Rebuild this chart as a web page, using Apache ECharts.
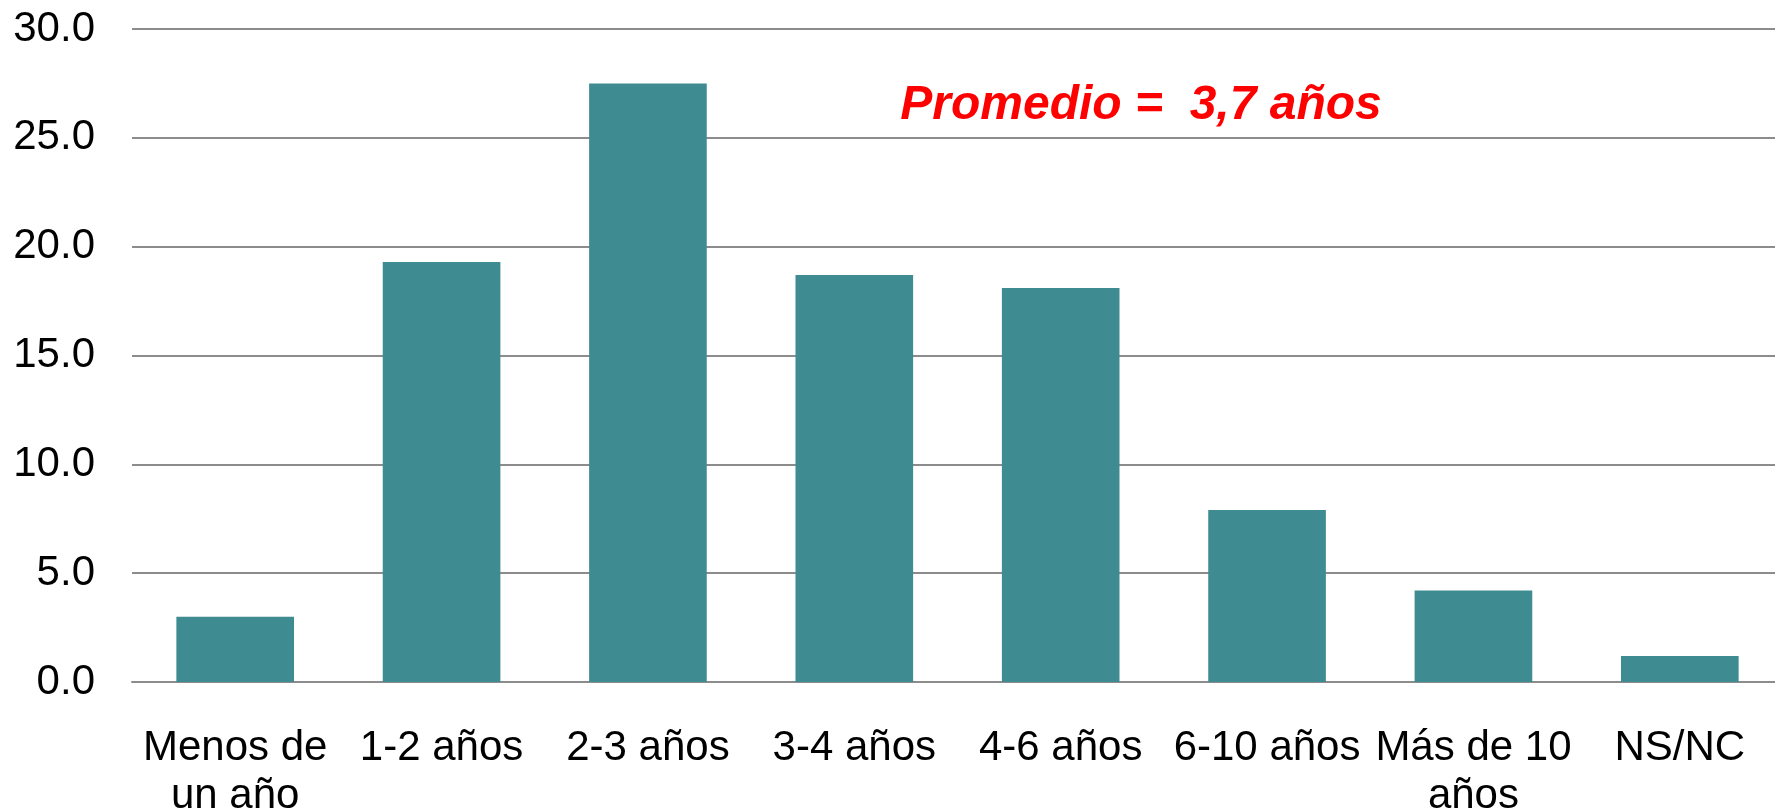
<!DOCTYPE html>
<html>
<head>
<meta charset="utf-8">
<script src="https://cdn.jsdelivr.net/npm/echarts@6/dist/echarts.min.js"></script>
<style>
html,body{margin:0;padding:0;background:#fff;}
#chart{width:1775px;height:810px;}
</style>
</head>
<body>
<div id="chart"></div>
<script>
var categories = ['Menos de\nun año', '1-2 años', '2-3 años', '3-4 años', '4-6 años', '6-10 años', 'Más de 10\naños', 'NS/NC'];
var values = [3.0, 19.3, 27.5, 18.7, 18.1, 7.9, 4.2, 1.2];
var yTicks = { min: 0, max: 30, interval: 5 };
var annotation = 'Promedio =  3,7 años';

var chart = echarts.init(document.getElementById('chart'));
var font = '"Liberation Sans", Arial, sans-serif';
chart.setOption({
  animation: false,
  backgroundColor: '#ffffff',
  grid: { left: 132, right: -8, top: 29, bottom: 128, containLabel: false, outerBoundsMode: 'none' },
  xAxis: {
    type: 'category',
    data: categories,
    axisLine: { show: true, lineStyle: { color: '#8c8c8c', width: 2 } },
    axisTick: { show: false },
    axisLabel: {
      interval: 0,
      margin: 42,
      fontFamily: font,
      fontSize: 42,
      lineHeight: 48,
      color: '#000000'
    }
  },
  yAxis: {
    type: 'value',
    min: yTicks.min,
    max: yTicks.max,
    interval: yTicks.interval,
    axisLine: { show: false },
    axisTick: { show: false },
    splitLine: { show: true, lineStyle: { color: '#8c8c8c', width: 2 } },
    axisLabel: {
      margin: 37,
      fontFamily: font,
      fontSize: 42,
      color: '#000000',
      formatter: function (v) { return v.toFixed(1); }
    }
  },
  series: [{
    type: 'bar',
    data: values,
    barWidth: '57%',
    itemStyle: { color: '#3e8b92' }
  }],
  graphic: [{
    type: 'text',
    x: 1141,
    y: 106,
    z: 100,
    style: {
      text: annotation,
      align: 'center',
      verticalAlign: 'middle',
      fontFamily: font,
      fontSize: 48,
      fontWeight: 'bold',
      fontStyle: 'italic',
      fill: '#ff0000'
    }
  }]
});
</script>
</body>
</html>
